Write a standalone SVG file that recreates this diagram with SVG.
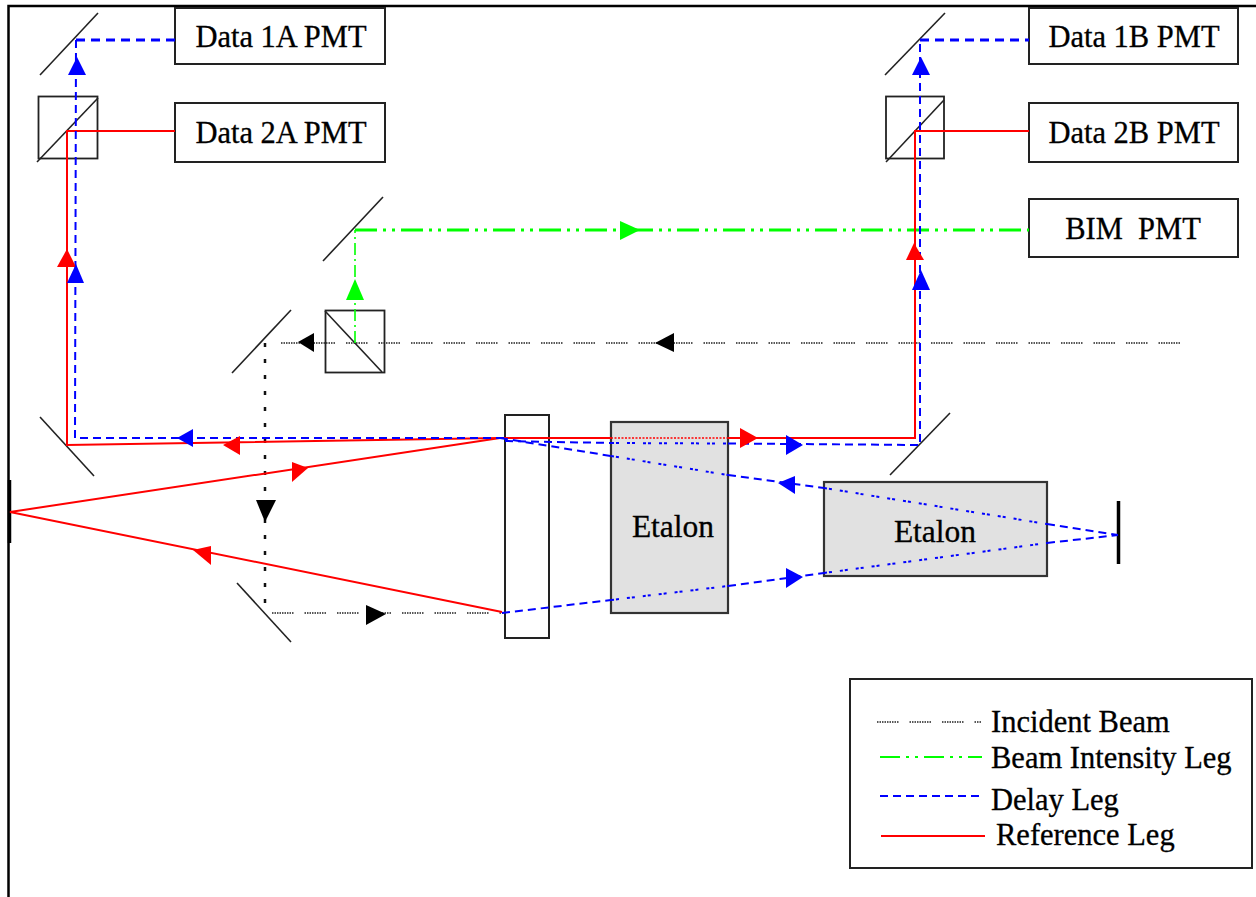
<svg xmlns="http://www.w3.org/2000/svg" width="1256" height="897" viewBox="0 0 1256 897">
<style>
text{font-family:"Liberation Serif","Times New Roman",serif;font-size:30.5px;fill:#000;stroke:#000;stroke-width:.3}
.c{text-anchor:middle}
.box{fill:#fff;stroke:#222;stroke-width:2}
.eta{fill:#e1e1e1;stroke:#333;stroke-width:2.2}
.m{stroke:#222;stroke-width:1.6;fill:none}
.cube{fill:none;stroke:#222;stroke-width:1.8}
.end{stroke:#000;stroke-width:3.500}
line,polyline{fill:none}
.red{stroke:#f00;stroke-width:2}
.blue{stroke:#00f;stroke-width:2;stroke-dasharray:8 5}
.blue3{stroke:#00f;stroke-width:3;stroke-dasharray:9 6}
.blued{stroke:#00f;stroke-width:2;stroke-dasharray:3 2 3 8}
.redd{stroke:#f00;stroke-width:1.5;stroke-dasharray:2 1.5}
.green{stroke:#0f0;stroke-width:3;stroke-dasharray:22 6 3 6 3 6}
.gl{stroke:#0f0;stroke-width:2;stroke-dasharray:20 6 3 6 3 6}
.gv{stroke:#0f0;stroke-width:1.6;stroke-dasharray:12 4 2 4}
.blk{stroke:#222;stroke-width:1.5;stroke-dasharray:1.5 1 1.5 1 1.5 1 1.5 1 1.5 1 1.5 1 1.5 1 1.5 1 1.5 11}
.blkv{stroke:#111;stroke-width:2.500;stroke-dasharray:4 12}
.ar{fill:#f00}.ab{fill:#00f}.ag{fill:#0f0}.ak{fill:#000}
</style>
<g id="frame"><path d="M8.500 897V6H1256" fill="none" stroke="#000" stroke-width="2.500"/></g>
<g id="data-1a"><rect class="box" x="175" y="8" width="210" height="56"/><text x="281" y="47" class="c">Data 1A PMT</text></g>
<g id="data-2a"><rect class="box" x="175" y="103" width="210" height="59"/><text x="281" y="143" class="c">Data 2A PMT</text></g>
<g id="data-1b"><rect class="box" x="1029" y="8" width="209" height="56"/><text x="1134" y="47" class="c">Data 1B PMT</text></g>
<g id="data-2b"><rect class="box" x="1029" y="103" width="209" height="59"/><text x="1134" y="143" class="c">Data 2B PMT</text></g>
<g id="bim-pmt"><rect class="box" x="1029" y="199" width="209" height="58"/><text x="1133" y="239" class="c" xml:space="preserve">BIM  PMT</text></g>
<g id="mirror-1a"><line class="m" x1="40" y1="75" x2="98" y2="13"/></g>
<g id="cube-2a"><rect class="cube" x="38.500" y="96.500" width="59" height="62"/><line class="m" x1="37" y1="162" x2="98" y2="98"/></g>
<g id="mirror-1b"><line class="m" x1="885" y1="75" x2="945" y2="13"/></g>
<g id="cube-2b"><rect class="cube" x="886" y="96.500" width="58" height="62"/><line class="m" x1="886" y1="162" x2="944" y2="100"/></g>
<g id="mirror-bim"><line class="m" x1="323" y1="261" x2="383" y2="197"/></g>
<g id="cube-bim"><rect class="cube" x="325.500" y="310.500" width="59" height="62"/><line class="m" x1="325" y1="311" x2="382" y2="372"/></g>
<g id="mirror-incident-top"><line class="m" x1="232" y1="373" x2="291" y2="310"/></g>
<g id="mirror-incident-bottom"><line class="m" x1="237" y1="583" x2="291" y2="642"/></g>
<g id="mirror-left"><line class="m" x1="40" y1="417" x2="94" y2="476"/></g>
<g id="mirror-right"><line class="m" x1="890" y1="475" x2="950" y2="413"/></g>
<g id="end-mirror-left"><line class="end" x1="9.500" y1="480" x2="9.500" y2="543"/></g>
<g id="end-mirror-right"><line class="end" x1="1118.500" y1="501" x2="1118.500" y2="564"/></g>
<g id="window"><rect class="box" x="505" y="415" width="44" height="223"/></g>
<g id="etalon-1"><rect class="eta" x="611" y="422" width="117" height="191"/><text x="673" y="537" class="c" style="font-size:31.500px">Etalon</text></g>
<g id="etalon-2"><rect class="eta" x="824" y="482" width="223" height="94"/><text x="935" y="542" class="c" style="font-size:31.500px">Etalon</text></g>
<g id="connectors">
<polyline class="blk" points="1180,343 275,343"/>
<line class="blkv" x1="265" y1="343" x2="265" y2="612"/>
<line class="blk" x1="272" y1="613" x2="505" y2="613"/>
<line class="gv" x1="355" y1="343" x2="355" y2="230"/>
<line class="green" x1="355" y1="230" x2="1029" y2="230"/>
<polyline class="red" points="175,131 67,131 67,445 500,438 611,438"/>
<line class="redd" x1="611" y1="438" x2="728" y2="438"/>
<polyline class="red" points="728,438 915,438 915,131 1029,131"/>
<polyline class="red" points="500,438 10,512 502,612"/>
<line class="blue3" x1="175" y1="40" x2="76" y2="40"/>
<polyline class="blue" points="76,40 75,438 505,438"/>
<line class="blue" x1="505" y1="441" x2="611" y2="443"/>
<line class="blued" x1="611" y1="443" x2="728" y2="443.500"/>
<polyline class="blue" points="728,443.500 920,445 920,40"/>
<line class="blue3" x1="920" y1="40" x2="1029" y2="40"/>
<line class="blue" x1="500" y1="438" x2="611" y2="456"/>
<line class="blued" x1="611" y1="456" x2="728" y2="475"/>
<line class="blue" x1="728" y1="475" x2="824" y2="488"/>
<line class="blued" x1="824" y1="488" x2="1047" y2="524"/>
<line class="blue" x1="1047" y1="524" x2="1118" y2="535"/>
<line class="blue" x1="502" y1="613" x2="611" y2="600"/>
<line class="blued" x1="611" y1="600" x2="728" y2="586"/>
<line class="blue" x1="728" y1="586" x2="824" y2="573"/>
<line class="blued" x1="824" y1="573" x2="1047" y2="543"/>
<line class="blue" x1="1047" y1="543" x2="1118" y2="535"/>
<polygon class="ab" points="77,57 68,75 86,75"/>
<polygon class="ar" points="67,249 57,267 76,267"/>
<polygon class="ab" points="76,264 67,283 84,283"/>
<polygon class="ag" points="355,279 346,300 364,300"/>
<polygon class="ag" points="640,230 620,221 620,240"/>
<polygon class="ar" points="914,243 906,260 924,260"/>
<polygon class="ab" points="921,270 912,290 930,290"/>
<polygon class="ab" points="921,57 912,75 930,75"/>
<polygon class="ak" points="298,342 314,333 314,352"/>
<polygon class="ak" points="655,343 674,333 674,352"/>
<polygon class="ab" points="177,438 193,429 193,447"/>
<polygon class="ar" points="223,445 240,436 240,455"/>
<polygon class="ar" points="308,468 292,462 292,482"/>
<polygon class="ar" points="193,550 211,546 211,565"/>
<polygon class="ak" points="265,522 256,500 276,500"/>
<polygon class="ak" points="386,614 366,605 366,625"/>
<polygon class="ar" points="758,438 740,428 740,448"/>
<polygon class="ab" points="803,445 786,435 786,455"/>
<polygon class="ab" points="778,483 795,476 795,494"/>
<polygon class="ab" points="803,577 786,568 786,588"/>
</g>
<g id="legend"><rect class="box" x="850" y="679" width="402" height="189"/>
<line class="blk" x1="877" y1="722" x2="982" y2="722"/>
<line class="gl" x1="880" y1="757" x2="982" y2="757"/>
<line class="blue" x1="880" y1="796" x2="982" y2="796"/>
<line class="red" x1="881" y1="836" x2="985" y2="836"/>
<text x="991" y="732">Incident Beam</text>
<text x="991" y="768">Beam Intensity Leg</text>
<text x="991" y="810">Delay Leg</text>
<text x="996" y="845">Reference Leg</text>
</g>
</svg>
